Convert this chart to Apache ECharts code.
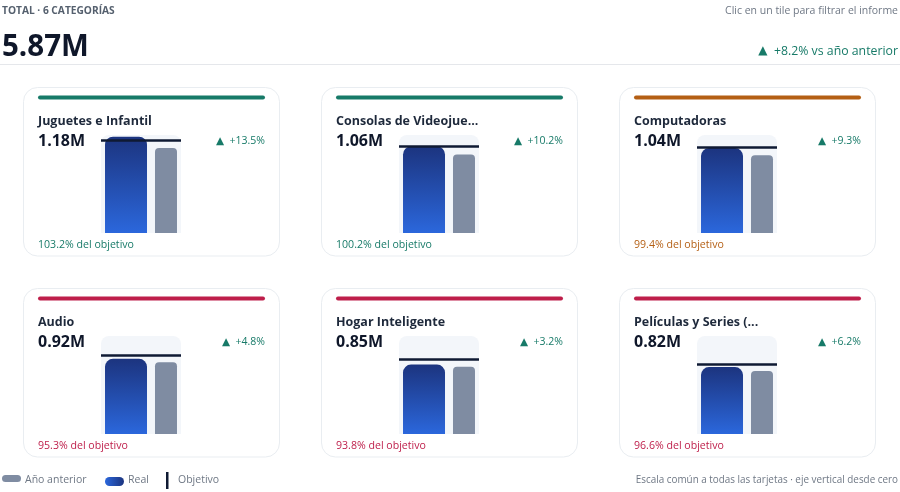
<!DOCTYPE html>
<html>
<head>
<meta charset="utf-8">
<title>Total 6 categorías</title>
<style>
html, body { margin: 0; padding: 0; background: #fff; }
#main { width: 900px; height: 492px; }
</style>
<script src="https://cdn.jsdelivr.net/npm/echarts@6/dist/echarts.min.js"></script>
</head>
<body>
<div id="main"></div>
<script>
var categories = ['Juguetes e Infantil', 'Consolas de Videojue...', 'Computadoras', 'Audio', 'Hogar Inteligente', 'Películas y Series (...'];
var realValues = [1.18, 1.06, 1.04, 0.92, 0.85, 0.82];
var priorValues = [1.04, 0.962, 0.951, 0.878, 0.824, 0.772];
var targetValues = [1.143, 1.058, 1.046, 0.965, 0.906, 0.849];
var deltaLabels = ['+13.5%', '+10.2%', '+9.3%', '+4.8%', '+3.2%', '+6.2%'];
var attainLabels = ['103.2%', '100.2%', '99.4%', '95.3%', '93.8%', '96.6%'];
var valueLabels = ['1.18M', '1.06M', '1.04M', '0.92M', '0.85M', '0.82M'];
var statusColors = ['#177a68', '#177a68', '#b45f14', '#be1e4a', '#be1e4a', '#be1e4a'];

var FONT = '"Open Sans", "Noto Sans", sans-serif';
var GREEN = '#177a68';
var cardX = [23, 321, 619];
var cardY = [87, 288];
var axisMax = 1.2;

function realGradient() {
    return new echarts.graphic.LinearGradient(0, 0, 0, 1, [
        {offset: 0, color: '#1c347f'},
        {offset: 1, color: '#2b67dc'}
    ]);
}

function txt(x, y, text, size, weight, color, align) {
    return {
        type: 'text', x: x, y: y, z: 5, silent: true,
        style: {
            text: text, fill: color, align: align || 'left', verticalAlign: 'middle',
            font: weight + ' ' + size + 'px ' + FONT
        }
    };
}

// delta text with a bigger triangle than the font fallback gives
function deltaTxt(x, y, text, size, triSize) {
    return {
        type: 'text', x: x, y: y, z: 5, silent: true,
        style: {
            text: '{t|▲}{v|  ' + text + '}', align: 'right', verticalAlign: 'middle',
            rich: {
                t: {fill: GREEN, font: triSize + 'px "DejaVu Sans"'},
                v: {fill: GREEN, font: '400 ' + size + 'px ' + FONT}
            }
        }
    };
}

var grids = [], xAxes = [], yAxes = [], series = [];
var shapes = [
    txt(2, 11.5, 'TOTAL · 6 CATEGORÍAS', 10.2, 700, '#55606e'),
    txt(898, 11.5, 'Clic en un tile para filtrar el informe', 10.5, 400, '#6f7885', 'right'),
    txt(2, 48, '5.87M', 29.5, 700, '#0f172a'),
    deltaTxt(898, 51, '+8.2% vs año anterior', 12.3, 12),
    {type: 'line', z: 1, silent: true, shape: {x1: 0, y1: 64.5, x2: 900, y2: 64.5}, style: {stroke: '#e5e7eb', lineWidth: 1}}
];

for (var i = 0; i < categories.length; i++) {
    var cx = cardX[i % 3];
    var cy = cardY[Math.floor(i / 3)];

    // card, status stripe and plot band
    shapes.push({type: 'rect', z: 0, silent: true, shape: {x: cx + 0.5, y: cy + 0.5, width: 256, height: 168.5, r: 14},
        style: {fill: '#fff', stroke: '#e9edf1', lineWidth: 1}});
    shapes.push({type: 'rect', z: 1, silent: true, shape: {x: cx + 15, y: cy + 8.5, width: 227, height: 4, r: 2},
        style: {fill: statusColors[i]}});
    shapes.push({type: 'rect', z: 1, silent: true, shape: {x: cx + 78, y: cy + 48, width: 80, height: 98, r: [8, 8, 0, 0]},
        style: {fill: '#f3f6fa'}});

    shapes.push(txt(cx + 15, cy + 34, categories[i], 12.5, 700, '#1e293b'));
    shapes.push(txt(cx + 15, cy + 54, valueLabels[i], 16, 700, '#0f172a'));
    shapes.push(deltaTxt(cx + 242, cy + 54, deltaLabels[i], 10.5, 10.5));
    shapes.push(txt(cx + 15, cy + 158, attainLabels[i] + ' del objetivo', 10.6, 500, statusColors[i]));

    grids.push({left: cx + 78, top: cy + 48, width: 80, height: 98, containLabel: false});
    xAxes.push({type: 'category', gridIndex: i, data: [categories[i]], show: false});
    yAxes.push({type: 'value', gridIndex: i, min: 0, max: axisMax, show: false});

    series.push({
        name: 'Real', type: 'bar', xAxisIndex: i, yAxisIndex: i, barWidth: 42, barGap: '19%', z: 3,
        data: [realValues[i]], silent: true,
        itemStyle: {color: realGradient(), borderRadius: [8, 8, 0, 0]},
        markLine: {
            silent: true, symbol: 'none', animation: false, z: 6,
            label: {show: false},
            lineStyle: {color: '#0f1a33', width: 2.5, type: 'solid'},
            data: [{yAxis: targetValues[i], name: 'Objetivo'}]
        }
    });
    series.push({
        name: 'Año anterior', type: 'bar', xAxisIndex: i, yAxisIndex: i, barWidth: 22, z: 3,
        data: [priorValues[i]], silent: true,
        itemStyle: {color: '#7f8ca2', borderRadius: [4, 4, 0, 0]}
    });
}

// legend row
shapes.push({type: 'rect', z: 2, silent: true, shape: {x: 2, y: 475, width: 19, height: 7, r: 3.5}, style: {fill: '#7f8ca2'}});
shapes.push(txt(25, 480, 'Año anterior', 10.5, 400, '#6f7885'));
shapes.push({type: 'rect', z: 2, silent: true, shape: {x: 105, y: 477, width: 19, height: 9, r: 4.5},
    style: {fill: new echarts.graphic.LinearGradient(1, 0, 0, 0, [{offset: 0, color: '#1c347f'}, {offset: 1, color: '#2b67dc'}])}});
shapes.push(txt(128, 480, 'Real', 10.5, 400, '#6f7885'));
shapes.push({type: 'rect', z: 2, silent: true, shape: {x: 166, y: 472, width: 2.5, height: 17}, style: {fill: '#0f1a33'}});
shapes.push(txt(178, 480, 'Objetivo', 10.5, 400, '#6f7885'));
shapes.push(txt(898, 480, 'Escala común a todas las tarjetas · eje vertical desde cero', 9.9, 400, '#6f7885', 'right'));

var myChart = echarts.init(document.getElementById('main'), null, {renderer: 'canvas'});
myChart.setOption({
    animation: false,
    backgroundColor: '#fff',
    textStyle: {fontFamily: FONT},
    graphic: {elements: shapes},
    grid: grids,
    xAxis: xAxes,
    yAxis: yAxes,
    series: series
});
</script>
</body>
</html>
